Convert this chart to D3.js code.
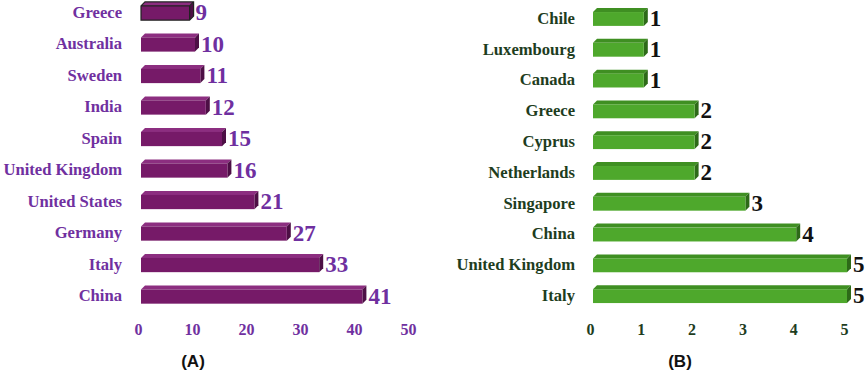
<!DOCTYPE html>
<html><head><meta charset="utf-8">
<script src="https://cdn.jsdelivr.net/npm/d3@7"></script>
<style>body{margin:0;background:#fff}svg{display:block}
.sf{font-family:"Liberation Serif","Times New Roman","DejaVu Serif","Noto Serif",serif;font-weight:bold}
.ss{font-family:"Liberation Sans",Arial,sans-serif;font-weight:bold}
</style>
</head><body>
<svg id="c" width="865" height="373"></svg>
<script>
const catsA = ["Greece","Australia","Sweden","India","Spain","United Kingdom","United States","Germany","Italy","China"];
const valsA = [9,10,11,12,15,16,21,27,33,41];
const ticksA = [0,10,20,30,40,50];
const catsB = ["Chile","Luxembourg","Canada","Greece","Cyprus","Netherlands","Singapore","China","United Kingdom","Italy"];
const valsB = [1,1,1,2,2,2,3,4,5,5];
const ticksB = [0,1,2,3,4,5];

const svg = d3.select("#c");

function panel(cfg){
  const x = d3.scaleLinear().domain([0, cfg.max]).range([cfg.x0, cfg.x1]);
  const y = d3.scaleBand().domain(cfg.cats).range([cfg.yTop, cfg.yBot]).padding(0.55);
  const g = svg.append("g");
  const d = 4; // depth
  const bh = y.bandwidth();
  cfg.cats.forEach((c,i)=>{
    const v = cfg.vals[i];
    const xs = x(0), xe = x(v), yt = y(c), yb = yt + bh;
    g.append("path").attr("d",`M${xs},${yt} L${xs+d},${yt-d} L${xe+d},${yt-d} L${xe},${yt} Z`)
      .attr("fill",cfg.top);
    g.append("path").attr("d",`M${xe},${yt} L${xe+d},${yt-d} L${xe+d},${yb-d} L${xe},${yb} Z`)
      .attr("fill",cfg.side);
    g.append("rect").attr("x",xs).attr("y",yt).attr("width",xe-xs).attr("height",bh)
      .attr("fill",cfg.front);
    if (cfg.outlineFirst && i===0){
      g.append("path").attr("d",`M${xs},${yt} L${xs+d},${yt-d} L${xe+d},${yt-d} L${xe+d},${yb-d} L${xe},${yb} L${xs},${yb} Z M${xs},${yt} L${xe},${yt} L${xe+d},${yt-d} M${xe},${yt} L${xe},${yb}`)
        .attr("fill","none").attr("stroke","#222").attr("stroke-width",1.2);
    }
    g.append("text").attr("class","sf").attr("x",xe+d+2).attr("y",yt+bh/2-1).attr("dy","0.35em")
      .style("font-size","23px").attr("fill",cfg.valColor).text(v);
    g.append("text").attr("class","sf").attr("x",cfg.labelX).attr("y",yt+bh/2-1).attr("dy","0.35em")
      .attr("text-anchor","end").style("font-size","16.6px")
      .attr("fill",cfg.labColor).text(c);
  });
  const ax = g.append("g").attr("transform",`translate(${-3},${cfg.tickY})`)
    .call(d3.axisBottom(x).tickValues(cfg.ticks).tickFormat(d3.format("d")).tickSize(0).tickPadding(0));
  ax.select(".domain").remove();
  ax.attr("font-family",null).attr("font-size",null);
  ax.selectAll("text").attr("class","sf").style("font-size","16px").attr("fill",cfg.labColor);
  g.append("text").attr("class","ss").attr("x",cfg.capX).attr("y",367).attr("text-anchor","middle")
    .style("font-size","17px").attr("fill","#111").text(cfg.caption);
}

panel({cats:catsA, vals:valsA, ticks:ticksA, max:50, x0:141, x1:411,
  yTop:-11.4, yBot:321, front:"#761a68", top:"#8c2e80", side:"#4d0f45",
  valColor:"#6f2f9f", labColor:"#7030a0", labelX:122, tickY:324, capX:193,
  caption:"(A)", outlineFirst:true});
panel({cats:catsB, vals:valsB, ticks:ticksB, max:5, x0:593, x1:847,
  yTop:-4.9, yBot:320, front:"#4ea82c", top:"#3f8f22", side:"#2d6a18",
  valColor:"#111", labColor:"#1e3d1e", labelX:575, tickY:324, capX:680,
  caption:"(B)", outlineFirst:false});
</script>
</body></html>
